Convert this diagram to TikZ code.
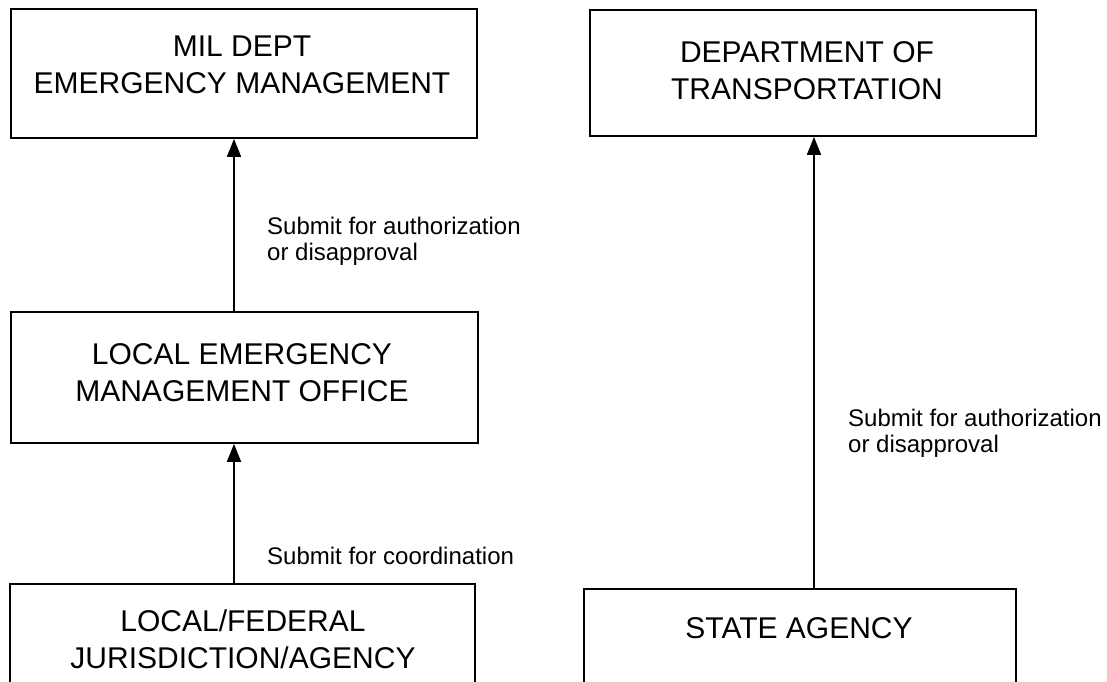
\documentclass[tikz,border=0pt]{standalone}
\usepackage{fontspec}
\setmainfont{Liberation Sans}
\usetikzlibrary{arrows.meta,calc}
\begin{document}
\begin{tikzpicture}[x=1pt,y=-1pt,
  box/.style={draw=black, line width=1.8pt, inner sep=0pt},
  boxtext/.style={font=\fontsize{30}{37}\selectfont, align=center, anchor=base, inner sep=0pt},
  lbl/.style={font=\fontsize{24}{26.5}\selectfont, align=left, anchor=base west, inner sep=0pt},
  conn/.style={line width=1.8pt, -{Triangle[width=14pt,length=18pt]}}]
\useasboundingbox (0,0) rectangle (1107,681);
\clip (0,0) rectangle (1107,681);
% boxes
\node[box, minimum width=466pt, minimum height=129pt] (mil) at (244,73.5) {};
\node[box, minimum width=446pt, minimum height=126pt] (dot) at (813,73) {};
\node[box, minimum width=467pt, minimum height=131pt] (lemo) at (244.5,377.5) {};
\node[box, minimum width=465pt, minimum height=136pt] (lfja) at (242.5,652) {};
\node[box, minimum width=432pt, minimum height=131pt] (state) at (800,654.5) {};
% box texts (base = baseline of the last line)
\node[boxtext] (milt) at (242,93) {MIL DEPT\\EMERGENCY MANAGEMENT};
\node[boxtext] (dott) at (807,99) {DEPARTMENT OF\\TRANSPORTATION};
\node[boxtext] (lemot) at (242,401) {LOCAL EMERGENCY\\MANAGEMENT OFFICE};
\node[boxtext] (lfjat) at (243,668) {LOCAL/FEDERAL\\JURISDICTION/AGENCY};
\node[boxtext] (statet) at (799,638) {STATE AGENCY};
% connectors
\coordinate (axl) at (234,0);
\coordinate (axr) at (814,0);
\draw[conn] (lemo.north -| axl) -- (mil.south -| axl);
\draw[conn] (lfja.north -| axl) -- (lemo.south -| axl);
\draw[conn] (state.north -| axr) -- (dot.south -| axr);
% labels
\node[lbl] (l1) at (267,260.5) {Submit for authorization\\or disapproval};
\node[lbl] (l2) at (267,564) {Submit for coordination};
\node[lbl] (l3) at (848,452.5) {Submit for authorization\\or disapproval};
\end{tikzpicture}
\end{document}
